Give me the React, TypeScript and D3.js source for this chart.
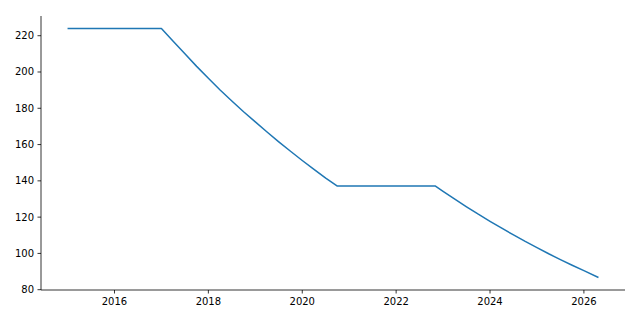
import React from "react";
import * as d3 from "d3";

const years = [
  2015.0, 2017.0, 2017.25, 2017.5, 2017.75, 2018.0, 2018.25, 2018.5, 2018.75, 2019.0,
  2019.25, 2019.5, 2019.75, 2020.0, 2020.25, 2020.5, 2020.74,
  2022.83, 2023.0, 2023.25, 2023.5, 2023.75, 2024.0, 2024.25, 2024.5, 2024.75, 2025.0,
  2025.25, 2025.5, 2025.75, 2026.0, 2026.31,
];
const values = [
  224.0, 224.0, 217.0, 210.0, 203.1, 196.5, 190.1, 184.0, 178.1, 172.5,
  166.9, 161.5, 156.3, 151.2, 146.3, 141.5, 137.2,
  137.2, 134.2, 129.9, 125.7, 121.6, 117.7, 113.9, 110.2, 106.6, 103.2,
  99.8, 96.6, 93.5, 90.5, 86.7,
];
const xTicks = [2016, 2018, 2020, 2022, 2024, 2026];
const yTicks = [80, 100, 120, 140, 160, 180, 200, 220];

const W = 640;
const H = 320;
const M = { left: 41, right: 15, top: 16, bottom: 30 };

export default function App() {
  const xMin = d3.min(years)!;
  const xMax = d3.max(years)!;
  const yMin = d3.min(values)!;
  const yMax = d3.max(values)!;
  const xPad = (xMax - xMin) * 0.05;
  const yPad = (yMax - yMin) * 0.05;
  const x = d3.scaleLinear().domain([xMin - xPad, xMax + xPad]).range([M.left, W - M.right]);
  const y = d3.scaleLinear().domain([yMin - yPad, yMax + yPad]).range([H - M.bottom, M.top]);
  const pts: [number, number][] = years.map((t, i) => [t, values[i]]);
  const line = d3
    .line<[number, number]>()
    .x((d) => x(d[0]))
    .y((d) => y(d[1]));
  const font = "'DejaVu Sans', sans-serif";
  const x0 = M.left;
  const yb = H - M.bottom;
  return (
    <svg
      width={W}
      height={H}
      style={{ position: "absolute", left: 0, top: 0, background: "#fff" }}
      fontFamily={font}
    >
      <rect x={0} y={0} width={W} height={H} fill="#fff" />
      <path d={line(pts) || ""} fill="none" stroke="#1f77b4" strokeWidth={1.5} strokeLinejoin="round" />
      <line x1={x0} x2={x0} y1={M.top} y2={yb} stroke="#000" strokeWidth={0.8} />
      <line x1={x0} x2={W - M.right} y1={yb} y2={yb} stroke="#000" strokeWidth={0.8} />
      {yTicks.map((t) => (
        <g key={"y" + t}>
          <line x1={x0 - 3.5} x2={x0} y1={y(t)} y2={y(t)} stroke="#000" strokeWidth={0.8} />
          <text x={x0 - 7} y={y(t)} dy="0.35em" textAnchor="end" fontSize={10} fill="#000">
            {t}
          </text>
        </g>
      ))}
      {xTicks.map((t) => (
        <g key={"x" + t}>
          <line x1={x(t)} x2={x(t)} y1={yb} y2={yb + 3.5} stroke="#000" strokeWidth={0.8} />
          <text x={x(t)} y={yb + 7} dy="0.76em" textAnchor="middle" fontSize={10} fill="#000">
            {t}
          </text>
        </g>
      ))}
    </svg>
  );
}
